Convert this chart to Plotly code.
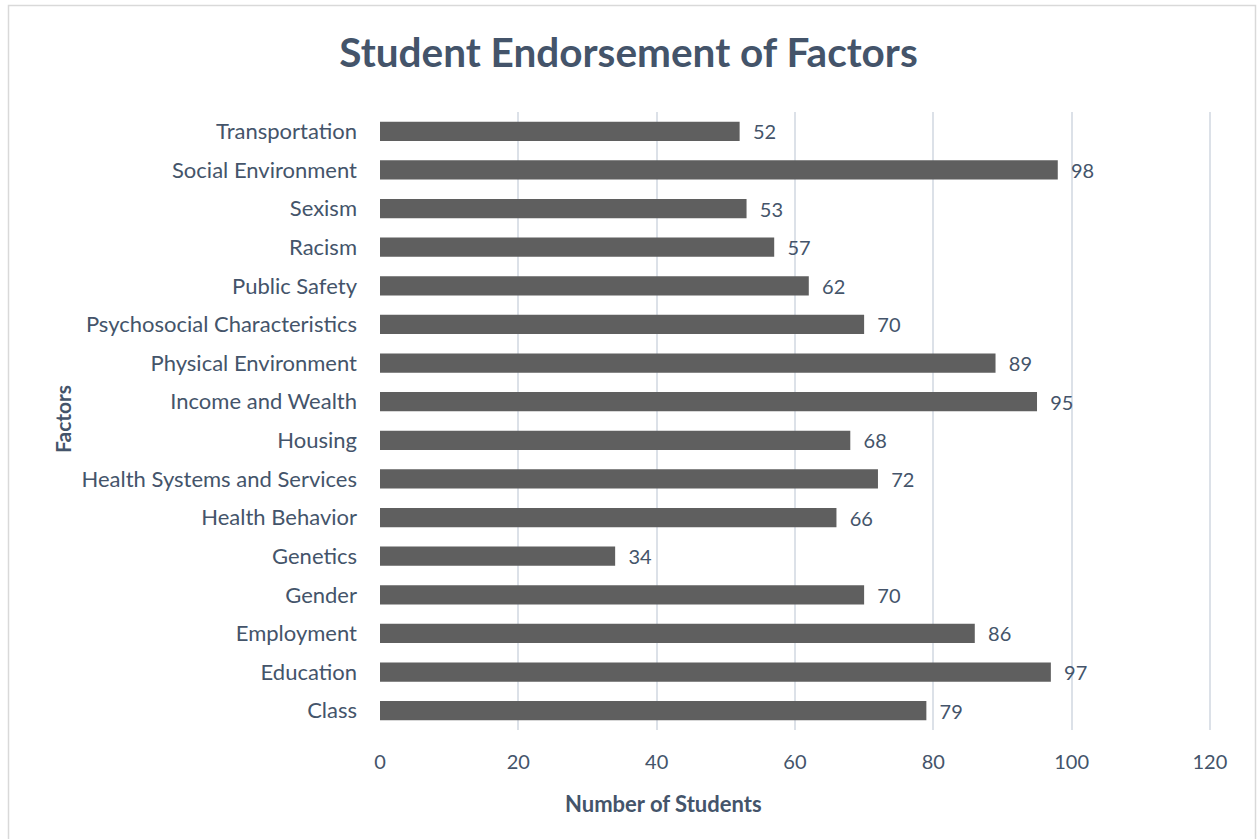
import plotly.graph_objects as go

categories = ["Class", "Education", "Employment", "Gender", "Genetics", "Health Behavior",
              "Health Systems and Services", "Housing", "Income and Wealth", "Physical Environment",
              "Psychosocial Characteristics", "Public Safety", "Racism", "Sexism",
              "Social Environment", "Transportation"]
values = [79, 97, 86, 70, 34, 66, 72, 68, 95, 89, 70, 62, 57, 53, 98, 52]
x_ticks = [0, 20, 40, 60, 80, 100, 120]

TXT = "#44546A"
FONT = "Lato"

fig = go.Figure()
fig.add_trace(go.Bar(
    y=categories, x=values, orientation="h",
    marker=dict(color="#5f5f5f", line=dict(width=0)),
    width=0.5,
    text=values, texttemplate="  %{x}", textposition="outside",
    constraintext="none",
    textfont=dict(family=FONT, size=20, color=TXT),
    cliponaxis=False,
))

fig.update_layout(
    width=1257, height=839,
    margin=dict(l=380, r=45, t=112, b=109),
    paper_bgcolor="white", plot_bgcolor="white",
    showlegend=False,
    font=dict(family=FONT, color=TXT),
    title=dict(text="<b>Student Endorsement of Factors</b>", x=0.5, xanchor="center",
               y=1 - 53 / 839, yanchor="middle", font=dict(family=FONT, size=40.5, color=TXT)),
    xaxis=dict(range=[0, 120.3], tickvals=x_ticks, showgrid=True, gridcolor="#DCE1E8",
               gridwidth=1.5, zeroline=False, showline=False,
               tickfont=dict(family=FONT, size=20, color=TXT), ticklabelstandoff=18),
    yaxis=dict(showgrid=False, zeroline=False, showline=False,
               tickfont=dict(family=FONT, size=22, color=TXT), ticklabelstandoff=22,
               categoryorder="array", categoryarray=categories),
    annotations=[
        dict(text="<b>Number of Students</b>", xref="paper", yref="paper", x=(663 - 380) / 832,
             y=-73 / 618, xanchor="center", yanchor="middle", showarrow=False,
             font=dict(family=FONT, size=22, color=TXT)),
        dict(text="<b>Factors</b>", xref="paper", yref="paper", x=(62 - 380) / 832,
             y=(730 - 419) / 618, xanchor="center", yanchor="middle", showarrow=False,
             textangle=-90, font=dict(family=FONT, size=21, color=TXT)),
    ],
    shapes=[dict(type="rect", xref="paper", yref="paper",
                 x0=(8.5 - 380) / 832, x1=(1255.5 - 380) / 832,
                 y0=(730 - 845) / 618, y1=(730 - 5.5) / 618,
                 line=dict(color="#D9D9D9", width=1.5), fillcolor="rgba(0,0,0,0)", layer="below")],
)

fig.write_html("out.html", config={"displayModeBar": False},
               post_script="document.body.style.margin='0';document.body.style.overflow='hidden';")
